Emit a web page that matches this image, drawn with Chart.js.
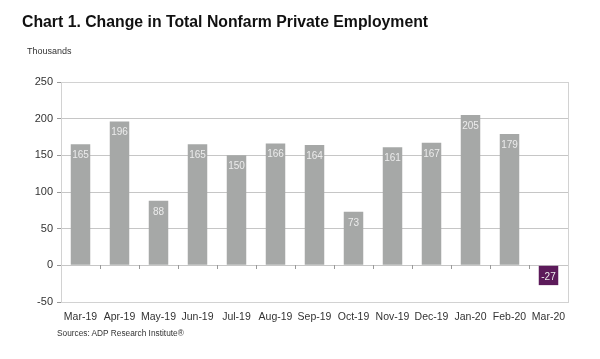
<!DOCTYPE html>
<html>
<head>
<meta charset="utf-8">
<script src="https://cdn.jsdelivr.net/npm/chart.js@4.4.1/dist/chart.umd.min.js"></script>
<style>
  html, body { margin: 0; padding: 0; background: #fff; }
  #wrap { position: relative; width: 600px; height: 359px; overflow: hidden; font-family: "Liberation Sans", Arial, sans-serif; }
  #c { position: absolute; left: 0; top: 0; }
  .t { position: absolute; white-space: nowrap; }
  #title { left: 22px; top: 13px; font-size: 15.8px; font-weight: bold; color: #111; }
  #unit { left: 27px; top: 46px; font-size: 9px; color: #333; }
  #src { left: 57px; top: 328px; font-size: 8.3px; color: #333; }
</style>
</head>
<body>
<div id="wrap">
  <canvas id="c" width="600" height="359"></canvas>
  <div class="t" id="title">Chart 1. Change in Total Nonfarm Private Employment</div>
  <div class="t" id="unit">Thousands</div>
  <div class="t" id="src">Sources: ADP Research Institute®</div>
</div>
<script>
const categories = ["Mar-19","Apr-19","May-19","Jun-19","Jul-19","Aug-19","Sep-19","Oct-19","Nov-19","Dec-19","Jan-20","Feb-20","Mar-20"];
const employmentChange = [165, 196, 88, 165, 150, 166, 164, 73, 161, 167, 205, 179, -27];
const yTicks = [-50, 0, 50, 100, 150, 200, 250];

const GRAY = "#a6a8a7";
const PURPLE = "#5c1a5a";
const barColors = employmentChange.map((v, i) => i === employmentChange.length - 1 ? PURPLE : GRAY);

const boxPlugin = {
  id: "box",
  beforeDatasetsDraw(chart) {
    const a = chart.chartArea, ctx = chart.ctx;
    ctx.save();
    ctx.strokeStyle = "#d2d2d2";
    ctx.lineWidth = 1;
    ctx.strokeRect(Math.round(a.left) + 0.5, Math.round(a.top) + 0.5, Math.round(a.right - a.left), Math.round(a.bottom - a.top));
    ctx.restore();
  }
};

const labelPlugin = {
  id: "vlabels",
  afterDatasetsDraw(chart) {
    const ctx = chart.ctx;
    const meta = chart.getDatasetMeta(0);
    ctx.save();
    ctx.font = "10px 'Liberation Sans', Arial, sans-serif";
    ctx.fillStyle = "#ececec";
    ctx.textAlign = "center";
    ctx.textBaseline = "middle";
    meta.data.forEach((el, i) => {
      const v = employmentChange[i];
      const y = v >= 0 ? el.y + 11 : (el.y + el.base) / 2 + 2;
      ctx.fillText(String(v), el.x, y);
    });
    ctx.restore();
  }
};

new Chart(document.getElementById("c"), {
  type: "bar",
  data: {
    labels: categories,
    datasets: [{
      data: employmentChange,
      backgroundColor: barColors,
      barPercentage: 0.5,
      categoryPercentage: 1.0,
      xAxisID: "x",
      yAxisID: "y"
    }]
  },
  options: {
    responsive: false,
    animation: false,
    devicePixelRatio: 1,
    layout: { padding: { top: 82, right: 32, bottom: 27, left: 0 } },
    plugins: { legend: { display: false }, tooltip: { enabled: false }, title: { display: false } },
    scales: {
      y: {
        min: -50, max: 250,
        afterBuildTicks(scale) { scale.ticks = yTicks.map(v => ({ value: v })); },
        afterFit(scale) { scale.width = 61; },
        grid: { color: "#c6c6c6", lineWidth: 1, tickLength: 4, tickColor: "#999" },
        border: { display: true, color: "#9a9a9a" },
        ticks: { color: "#333", font: { family: "'Liberation Sans', Arial, sans-serif", size: 11 }, padding: 4 }
      },
      x: {
        position: "bottom",
        grid: { display: false, drawTicks: false },
        border: { display: false },
        afterFit(scale) { scale.height = 30; },
        ticks: { color: "#333", font: { family: "'Liberation Sans', Arial, sans-serif", size: 10.5 }, padding: 9, maxRotation: 0, autoSkip: false }
      },
      x2: {
        type: "category",
        position: { y: 0 },
        offset: true,
        grid: { offset: true, drawOnChartArea: false, drawTicks: true, tickLength: 4, color: "#999" },
        border: { display: false },
        ticks: { display: false }
      }
    }
  },
  plugins: [boxPlugin, labelPlugin]
});
</script>
</body>
</html>
